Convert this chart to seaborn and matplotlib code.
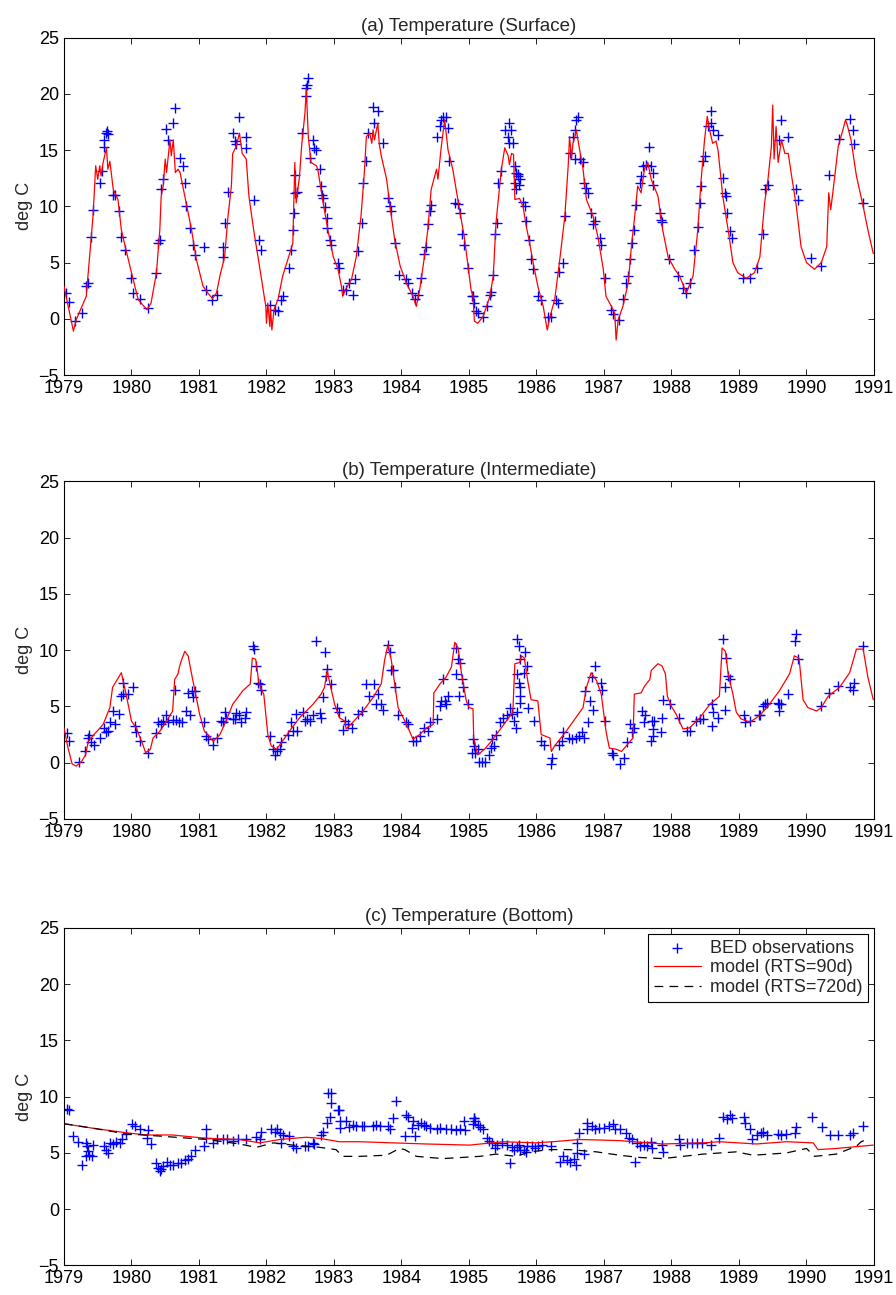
#
#   temperature at three depths: BED observations vs model runs
#

import matplotlib
matplotlib.use("Agg")
import matplotlib.pyplot as plt
import seaborn as sns

years = list(range(1979, 1992))
temp_ticks = [-5, 0, 5, 10, 15, 20, 25]

# ---- (a) surface -------------------------------------------------------
surf_obs = [
    (1979.03, 2.3), (1979.07, 1.5), (1979.17, -0.2), (1979.26, 0.5), (1979.33, 2.9),
    (1979.35, 3.2), (1979.40, 7.3), (1979.43, 9.7), (1979.54, 12.1), (1979.57, 13.1),
    (1979.59, 15.3), (1979.60, 15.9), (1979.63, 16.5), (1979.64, 16.7), (1979.65, 16.4),
    (1979.73, 11.0), (1979.75, 11.0), (1979.81, 9.6), (1979.85, 7.3), (1979.90, 6.1),
    (1980.00, 3.6), (1980.03, 2.3), (1980.12, 1.8), (1980.24, 1.0), (1980.36, 4.1),
    (1980.39, 6.7), (1980.42, 7.0), (1980.44, 11.5), (1980.47, 12.4), (1980.51, 16.9),
    (1980.54, 15.9), (1980.61, 17.4), (1980.64, 18.7), (1980.72, 14.3), (1980.76, 13.6),
    (1980.79, 12.1), (1980.81, 10.0), (1980.86, 8.1), (1980.91, 6.6), (1980.94, 5.7),
    (1981.07, 6.4), (1981.11, 2.6), (1981.20, 1.7), (1981.26, 2.1), (1981.35, 6.4),
    (1981.36, 5.5), (1981.38, 8.5), (1981.43, 11.3), (1981.51, 16.5), (1981.53, 15.8),
    (1981.55, 15.5), (1981.60, 17.9), (1981.69, 16.2), (1981.70, 15.2), (1981.81, 10.6),
    (1981.89, 7.0), (1981.92, 6.1), (1982.05, 1.2), (1982.12, 0.8), (1982.17, 0.7),
    (1982.22, 1.7), (1982.24, 2.0), (1982.34, 4.5), (1982.37, 6.1), (1982.39, 7.9),
    (1982.41, 9.4), (1982.43, 11.2), (1982.45, 11.3), (1982.43, 12.8), (1982.53, 16.5),
    (1982.58, 19.8), (1982.59, 20.5), (1982.60, 20.8), (1982.61, 21.4), (1982.65, 14.3),
    (1982.69, 15.9), (1982.71, 15.2), (1982.74, 15.0), (1982.79, 13.3), (1982.81, 11.8),
    (1982.83, 11.0), (1982.84, 10.7), (1982.86, 9.9), (1982.89, 9.0), (1982.90, 8.1),
    (1982.94, 7.0), (1982.96, 6.6), (1983.06, 5.0), (1983.08, 4.5), (1983.13, 2.6),
    (1983.18, 2.6), (1983.23, 3.2), (1983.28, 2.1), (1983.31, 3.5), (1983.36, 6.0),
    (1983.41, 8.5), (1983.43, 12.1), (1983.47, 14.0), (1983.50, 16.5), (1983.58, 18.8),
    (1983.60, 17.4), (1983.65, 18.5), (1983.73, 15.6), (1983.80, 10.7), (1983.83, 10.0),
    (1983.85, 9.6), (1983.91, 6.7), (1983.96, 3.9), (1984.07, 3.5), (1984.10, 3.2),
    (1984.15, 2.3), (1984.20, 1.8), (1984.24, 2.1), (1984.29, 3.6), (1984.34, 5.8),
    (1984.37, 6.4), (1984.39, 8.4), (1984.42, 9.6), (1984.44, 10.1), (1984.52, 16.2),
    (1984.57, 17.1), (1984.59, 17.7), (1984.62, 17.9), (1984.66, 17.9), (1984.69, 17.0),
    (1984.71, 14.0), (1984.79, 10.3), (1984.84, 10.2), (1984.86, 9.4), (1984.89, 7.5),
    (1984.92, 6.6), (1984.99, 4.5), (1985.06, 2.0), (1985.08, 1.4), (1985.11, 0.7),
    (1985.04, 2.0), (1985.13, 0.5), (1985.21, 0.2), (1985.26, 1.1), (1985.31, 2.1),
    (1985.33, 2.4), (1985.36, 3.9), (1985.38, 7.5), (1985.41, 8.5), (1985.43, 12.1),
    (1985.48, 13.1), (1985.53, 16.8), (1985.60, 17.4), (1985.63, 16.8), (1985.58, 16.2),
    (1985.60, 15.6), (1985.65, 15.6), (1985.68, 13.6), (1985.70, 13.0), (1985.73, 12.7),
    (1985.75, 12.4), (1985.68, 12.1), (1985.70, 11.5), (1985.72, 12.9), (1985.74, 11.9),
    (1985.80, 10.4), (1985.83, 10.0), (1985.85, 8.7), (1985.89, 7.0), (1985.92, 5.3),
    (1985.95, 4.4), (1986.02, 2.0), (1986.07, 1.7), (1986.17, 0.2), (1986.22, 0.2),
    (1986.29, 1.7), (1986.32, 1.4), (1986.34, 4.2), (1986.39, 5.0), (1986.42, 9.1),
    (1986.49, 14.7), (1986.54, 16.2), (1986.57, 16.8), (1986.59, 17.7), (1986.62, 17.9),
    (1986.57, 14.2), (1986.64, 14.2), (1986.69, 13.9), (1986.71, 12.1), (1986.74, 11.6),
    (1986.76, 11.2), (1986.81, 9.4), (1986.86, 8.7), (1986.84, 8.4), (1986.94, 7.2),
    (1986.96, 6.6), (1987.01, 3.6), (1987.11, 0.8), (1987.13, 0.4), (1987.23, -0.1),
    (1987.28, 1.8), (1987.33, 3.2), (1987.36, 3.8), (1987.38, 5.3), (1987.41, 6.7),
    (1987.45, 7.9), (1987.48, 10.1), (1987.53, 12.1), (1987.55, 12.7), (1987.58, 13.6),
    (1987.63, 13.7), (1987.66, 15.3), (1987.70, 13.6), (1987.73, 13.0), (1987.72, 11.9),
    (1987.83, 9.4), (1987.85, 8.8), (1987.86, 8.6), (1987.96, 5.3), (1988.10, 3.8),
    (1988.17, 2.7), (1988.22, 2.3), (1988.27, 3.2), (1988.34, 6.1), (1988.39, 8.2),
    (1988.42, 10.3), (1988.44, 11.8), (1988.47, 14.0), (1988.49, 14.5), (1988.54, 17.1),
    (1988.58, 18.5), (1988.59, 17.4), (1988.62, 16.8), (1988.69, 16.3), (1988.76, 12.5),
    (1988.79, 11.2), (1988.81, 10.9), (1988.82, 9.4), (1988.86, 7.8), (1988.89, 7.2),
    (1989.06, 3.6), (1989.16, 3.6), (1989.26, 4.5), (1989.36, 7.5), (1989.38, 11.5),
    (1989.43, 11.9), (1989.60, 15.9), (1989.63, 17.7), (1989.73, 16.2), (1989.85, 11.5),
    (1989.87, 10.6), (1990.07, 5.4), (1990.22, 4.7), (1990.34, 12.8), (1990.48, 16.0),
    (1990.64, 17.8), (1990.69, 16.8), (1990.71, 15.5), (1990.84, 10.3),
]

surf_model = [
    (1979.00, 2.9), (1979.14, -1.1), (1979.18, -0.1), (1979.33, 2.0), (1979.38, 5.5),
    (1979.43, 9.1), (1979.47, 13.6), (1979.50, 12.4), (1979.53, 13.6), (1979.55, 12.7),
    (1979.58, 13.9), (1979.63, 15.2), (1979.65, 13.3), (1979.68, 14.0), (1979.73, 11.5),
    (1979.80, 10.6), (1979.85, 7.9), (1979.92, 6.1), (1980.00, 4.1), (1980.10, 1.7),
    (1980.23, 0.8), (1980.29, 1.4), (1980.37, 4.1), (1980.42, 7.9), (1980.44, 10.9),
    (1980.47, 11.8), (1980.50, 14.2), (1980.52, 13.0), (1980.57, 15.9), (1980.59, 14.5),
    (1980.62, 15.9), (1980.65, 13.0), (1980.69, 13.3), (1980.72, 13.0), (1980.80, 10.6),
    (1980.89, 7.9), (1980.96, 5.3), (1981.01, 4.1), (1981.06, 2.9), (1981.13, 2.3),
    (1981.20, 1.8), (1981.26, 2.3), (1981.31, 3.8), (1981.38, 5.5), (1981.43, 9.1),
    (1981.48, 11.8), (1981.50, 14.7), (1981.55, 15.3), (1981.60, 16.5), (1981.64, 14.7),
    (1981.70, 14.2), (1981.74, 10.9), (1981.81, 7.9), (1981.88, 5.3), (1981.95, 2.6),
    (1981.99, 1.1), (1982.00, -0.4), (1982.02, 1.4), (1982.05, -0.7), (1982.06, 1.0),
    (1982.08, -1.0), (1982.11, 0.8), (1982.17, 1.7), (1982.24, 3.8), (1982.39, 6.7),
    (1982.42, 13.9), (1982.44, 10.3), (1982.49, 12.7), (1982.52, 15.3), (1982.57, 18.3),
    (1982.59, 20.4), (1982.62, 16.2), (1982.66, 13.9), (1982.74, 13.6), (1982.76, 13.3),
    (1982.84, 10.3), (1982.91, 7.9), (1982.99, 5.5), (1983.06, 4.4), (1983.11, 2.9),
    (1983.13, 2.0), (1983.17, 2.6), (1983.26, 3.5), (1983.33, 5.5), (1983.40, 9.1),
    (1983.45, 13.0), (1983.48, 16.2), (1983.53, 16.5), (1983.56, 15.6), (1983.58, 16.8),
    (1983.60, 15.9), (1983.65, 17.4), (1983.67, 15.6), (1983.70, 14.5), (1983.78, 12.4),
    (1983.83, 10.0), (1983.90, 7.0), (1983.98, 4.7), (1984.07, 3.2), (1984.17, 2.0),
    (1984.22, 1.1), (1984.27, 2.6), (1984.34, 5.5), (1984.39, 7.9), (1984.44, 11.5),
    (1984.52, 13.3), (1984.54, 12.4), (1984.59, 15.3), (1984.64, 17.7), (1984.69, 15.0),
    (1984.76, 13.3), (1984.86, 9.7), (1984.93, 7.3), (1984.98, 5.0), (1985.03, 2.6),
    (1985.06, 2.0), (1985.08, -0.2), (1985.13, -0.4), (1985.21, 0.2), (1985.31, 2.0),
    (1985.36, 3.8), (1985.40, 8.5), (1985.43, 10.3), (1985.48, 13.3), (1985.53, 15.2),
    (1985.58, 14.5), (1985.60, 13.7), (1985.63, 14.7), (1985.66, 14.6), (1985.68, 10.6),
    (1985.75, 10.7), (1985.80, 10.0), (1985.85, 8.2), (1985.90, 6.7), (1985.95, 5.0),
    (1986.02, 2.9), (1986.10, 1.1), (1986.16, -1.0), (1986.20, 0.2), (1986.27, 1.7),
    (1986.34, 5.0), (1986.42, 9.1), (1986.47, 13.6), (1986.49, 16.2), (1986.52, 14.2),
    (1986.54, 15.6), (1986.57, 16.2), (1986.59, 16.8), (1986.64, 15.0), (1986.69, 13.3),
    (1986.74, 10.6), (1986.84, 9.1), (1986.91, 7.3), (1986.99, 4.4), (1987.03, 2.0),
    (1987.11, 1.1), (1987.16, 0.5), (1987.18, -1.9), (1987.21, -0.1), (1987.28, 1.1),
    (1987.36, 3.2), (1987.41, 6.7), (1987.45, 8.8), (1987.50, 11.8), (1987.55, 11.2),
    (1987.60, 13.3), (1987.65, 13.9), (1987.70, 12.4), (1987.80, 10.9), (1987.87, 7.9),
    (1987.95, 5.5), (1988.05, 4.4), (1988.12, 3.8), (1988.22, 2.3), (1988.32, 3.8),
    (1988.39, 7.9), (1988.44, 12.4), (1988.49, 15.9), (1988.53, 18.0), (1988.56, 16.9),
    (1988.61, 15.6), (1988.66, 15.8), (1988.69, 15.0), (1988.76, 10.9), (1988.84, 7.9),
    (1988.91, 5.0), (1988.98, 4.1), (1989.11, 3.6), (1989.23, 4.1), (1989.31, 5.5),
    (1989.38, 10.3), (1989.43, 12.4), (1989.48, 15.3), (1989.50, 19.0), (1989.52, 14.2),
    (1989.55, 17.1), (1989.58, 13.9), (1989.63, 15.9), (1989.68, 14.7), (1989.73, 14.7),
    (1989.78, 12.7), (1989.85, 10.0), (1989.92, 6.4), (1990.00, 5.0), (1990.12, 4.4),
    (1990.22, 5.0), (1990.30, 6.4), (1990.33, 11.2), (1990.36, 9.7), (1990.42, 12.7),
    (1990.47, 15.3), (1990.54, 16.8), (1990.58, 17.7), (1990.61, 17.1), (1990.66, 15.9),
    (1990.74, 12.7), (1990.84, 10.0), (1990.91, 7.9), (1990.99, 5.8),
]

# ---- (b) intermediate --------------------------------------------------
mid_obs = [
    (1979.04, 2.6), (1979.07, 1.9), (1979.23, 0.1), (1979.31, 1.0), (1979.35, 2.2),
    (1979.37, 2.5), (1979.40, 1.8), (1979.44, 1.6), (1979.53, 2.2), (1979.60, 3.1),
    (1979.63, 2.7), (1979.65, 2.8), (1979.68, 3.6), (1979.73, 4.6), (1979.75, 3.4),
    (1979.82, 4.3), (1979.85, 5.9), (1979.88, 6.1), (1979.87, 7.1), (1979.95, 6.1),
    (1980.03, 6.7), (1980.05, 3.3), (1980.06, 2.7), (1980.12, 1.9), (1980.24, 0.9),
    (1980.36, 2.6), (1980.39, 3.6), (1980.44, 3.4), (1980.47, 3.7), (1980.51, 4.2),
    (1980.54, 3.6), (1980.61, 3.8), (1980.64, 6.5), (1980.66, 3.8), (1980.71, 3.6),
    (1980.75, 3.6), (1980.81, 4.6), (1980.84, 6.2), (1980.86, 4.2), (1980.89, 6.4),
    (1980.91, 5.8), (1980.94, 6.4), (1981.07, 3.6), (1981.10, 2.4), (1981.13, 2.1),
    (1981.21, 1.6), (1981.26, 2.2), (1981.33, 3.7), (1981.36, 3.6), (1981.38, 4.5),
    (1981.40, 4.0), (1981.50, 3.9), (1981.53, 3.9), (1981.55, 4.4), (1981.60, 4.2),
    (1981.63, 3.6), (1981.68, 4.0), (1981.70, 4.5), (1981.80, 10.4), (1981.81, 10.1),
    (1981.84, 8.6), (1981.87, 7.1), (1981.90, 7.0), (1981.92, 6.5), (1982.05, 2.4),
    (1982.10, 1.2), (1982.12, 0.7), (1982.15, 1.0), (1982.20, 1.2), (1982.22, 1.8),
    (1982.32, 2.5), (1982.37, 3.6), (1982.39, 2.8), (1982.44, 4.3), (1982.45, 2.8),
    (1982.54, 4.5), (1982.57, 3.7), (1982.60, 3.9), (1982.64, 3.7), (1982.69, 4.2),
    (1982.74, 10.8), (1982.81, 4.0), (1982.79, 4.4), (1982.84, 5.8), (1982.86, 9.8),
    (1982.89, 8.3), (1982.88, 7.7), (1982.96, 7.0), (1983.04, 4.9), (1983.08, 4.5),
    (1983.13, 2.9), (1983.16, 3.7), (1983.21, 3.4), (1983.26, 3.1), (1983.36, 4.3),
    (1983.41, 4.6), (1983.47, 7.0), (1983.52, 5.9), (1983.60, 7.0), (1983.63, 5.2),
    (1983.65, 6.1), (1983.70, 5.2), (1983.72, 4.7), (1983.80, 10.5), (1983.83, 9.8),
    (1983.85, 8.2), (1983.87, 8.2), (1983.90, 6.7), (1983.95, 4.2), (1984.07, 3.6),
    (1984.10, 3.4), (1984.17, 1.9), (1984.22, 1.9), (1984.27, 2.4), (1984.34, 3.1),
    (1984.39, 2.8), (1984.42, 3.6), (1984.52, 3.9), (1984.57, 5.0), (1984.59, 5.5),
    (1984.64, 5.5), (1984.66, 5.2), (1984.69, 5.9), (1984.62, 7.4), (1984.81, 10.2),
    (1984.84, 9.2), (1984.86, 8.9), (1984.81, 7.9), (1984.89, 7.4), (1984.85, 5.9),
    (1984.91, 6.7), (1984.99, 5.2), (1985.04, 0.9), (1985.06, 2.1), (1985.08, 1.5),
    (1985.13, 1.2), (1985.15, 0.1), (1985.09, 0.9), (1985.19, 0.1), (1985.24, 0.1),
    (1985.29, 0.7), (1985.32, 1.3), (1985.34, 2.1), (1985.37, 1.5), (1985.40, 2.5),
    (1985.46, 3.6), (1985.51, 4.0), (1985.56, 4.2), (1985.61, 4.9), (1985.64, 4.3),
    (1985.66, 3.7), (1985.69, 3.1), (1985.71, 4.5), (1985.71, 11.0), (1985.74, 10.4),
    (1985.75, 9.2), (1985.71, 7.9), (1985.74, 7.1), (1985.76, 6.7), (1985.75, 5.9),
    (1985.76, 5.3), (1985.81, 8.0), (1985.83, 9.8), (1985.86, 8.6), (1985.88, 4.9),
    (1985.96, 3.7), (1986.06, 1.9), (1986.11, 1.6), (1986.21, -0.1), (1986.23, 0.4),
    (1986.33, 1.6), (1986.38, 1.9), (1986.40, 2.7), (1986.48, 2.2), (1986.53, 2.1),
    (1986.58, 2.2), (1986.63, 2.4), (1986.67, 2.7), (1986.70, 2.2), (1986.72, 6.4),
    (1986.77, 3.6), (1986.80, 5.5), (1986.84, 4.7), (1986.82, 7.6), (1986.87, 8.6),
    (1986.95, 7.1), (1986.97, 6.5), (1987.02, 3.7), (1987.12, 0.9), (1987.14, 0.7),
    (1987.24, -0.1), (1987.29, 0.4), (1987.34, 1.8), (1987.39, 3.4), (1987.44, 3.1),
    (1987.42, 2.7), (1987.56, 4.6), (1987.59, 3.6), (1987.61, 4.2), (1987.69, 1.9),
    (1987.71, 3.7), (1987.74, 3.7), (1987.73, 2.4), (1987.72, 3.0), (1987.86, 4.0),
    (1987.87, 5.6), (1987.84, 2.7), (1987.98, 5.2), (1988.11, 4.0), (1988.23, 2.8),
    (1988.28, 2.8), (1988.37, 3.7), (1988.42, 3.9), (1988.47, 3.9), (1988.60, 5.2),
    (1988.61, 4.5), (1988.60, 3.3), (1988.69, 4.0), (1988.77, 11.0), (1988.81, 9.3),
    (1988.84, 7.7), (1988.86, 7.4), (1988.79, 6.7), (1988.80, 4.7), (1989.07, 4.2),
    (1989.09, 3.6), (1989.17, 3.7), (1989.29, 4.2), (1989.31, 4.2), (1989.36, 5.0),
    (1989.38, 5.2), (1989.41, 5.3), (1989.58, 5.3), (1989.60, 5.2), (1989.63, 5.2),
    (1989.60, 4.6), (1989.73, 6.1), (1989.83, 10.8), (1989.85, 11.4), (1989.87, 9.2),
    (1990.22, 5.0), (1990.34, 6.2), (1990.47, 6.8), (1990.64, 6.7), (1990.69, 6.5),
    (1990.71, 7.1), (1990.84, 10.4),
]

mid_model = [
    (1979.00, 3.1), (1979.06, 1.3), (1979.12, -0.1), (1979.18, -0.3), (1979.26, 0.1),
    (1979.32, 0.7), (1979.36, 1.9), (1979.43, 2.4), (1979.58, 3.4), (1979.68, 4.9),
    (1979.72, 6.7), (1979.78, 7.3), (1979.85, 8.0), (1979.92, 6.1), (1980.00, 3.7),
    (1980.07, 3.1), (1980.15, 1.9), (1980.21, 0.9), (1980.28, 1.2), (1980.32, 2.2),
    (1980.42, 2.8), (1980.52, 3.7), (1980.61, 4.6), (1980.64, 7.4), (1980.69, 7.9),
    (1980.71, 8.5), (1980.74, 9.1), (1980.79, 9.9), (1980.84, 9.5), (1980.89, 7.9),
    (1980.94, 6.4), (1981.01, 4.3), (1981.08, 2.8), (1981.13, 2.5), (1981.21, 1.9),
    (1981.31, 2.5), (1981.40, 3.7), (1981.50, 5.2), (1981.65, 6.4), (1981.76, 7.0),
    (1981.79, 9.3), (1981.84, 9.2), (1981.89, 7.0), (1981.96, 6.1), (1982.02, 2.5),
    (1982.07, 1.5), (1982.15, 1.2), (1982.20, 1.6), (1982.34, 2.8), (1982.49, 4.0),
    (1982.69, 5.2), (1982.81, 6.1), (1982.86, 6.7), (1982.90, 8.2), (1982.94, 7.0),
    (1983.01, 5.2), (1983.08, 4.0), (1983.16, 3.7), (1983.18, 3.0), (1983.28, 3.6),
    (1983.43, 4.6), (1983.58, 5.8), (1983.70, 7.0), (1983.75, 9.1), (1983.80, 10.5),
    (1983.85, 9.1), (1983.90, 7.0), (1983.95, 4.9), (1984.05, 3.7), (1984.12, 2.8),
    (1984.17, 2.1), (1984.27, 2.5), (1984.37, 3.1), (1984.47, 3.4), (1984.48, 6.2),
    (1984.57, 7.0), (1984.66, 7.6), (1984.74, 8.5), (1984.79, 10.7), (1984.84, 10.2),
    (1984.89, 7.9), (1984.96, 5.5), (1985.00, 4.9), (1985.06, 4.8), (1985.07, 2.2),
    (1985.13, 0.7), (1985.23, 1.2), (1985.33, 1.9), (1985.48, 3.1), (1985.65, 4.5),
    (1985.68, 8.8), (1985.75, 8.9), (1985.78, 9.5), (1985.82, 9.3), (1985.87, 7.3),
    (1985.92, 5.6), (1986.02, 5.5), (1986.07, 2.5), (1986.20, 2.2), (1986.22, 1.0),
    (1986.27, 1.5), (1986.44, 2.8), (1986.69, 4.9), (1986.74, 6.7), (1986.81, 8.0),
    (1986.89, 7.3), (1986.96, 6.1), (1987.03, 2.8), (1987.08, 1.3), (1987.18, 1.2),
    (1987.26, 1.0), (1987.33, 1.5), (1987.43, 2.2), (1987.45, 6.1), (1987.55, 6.2),
    (1987.60, 6.8), (1987.68, 7.4), (1987.70, 8.2), (1987.80, 8.8), (1987.86, 8.6),
    (1987.91, 7.9), (1987.94, 5.9), (1988.00, 5.0), (1988.07, 4.3), (1988.17, 3.0),
    (1988.27, 3.1), (1988.42, 4.0), (1988.57, 5.2), (1988.71, 5.9), (1988.75, 10.2),
    (1988.80, 9.9), (1988.84, 7.9), (1988.91, 6.1), (1988.96, 4.5), (1989.03, 3.9),
    (1989.16, 3.6), (1989.31, 4.2), (1989.45, 5.2), (1989.60, 6.4), (1989.75, 7.9),
    (1989.82, 9.5), (1989.89, 9.3), (1989.95, 5.6), (1990.02, 4.9), (1990.15, 4.6),
    (1990.22, 4.9), (1990.32, 5.9), (1990.49, 6.7), (1990.64, 8.0), (1990.74, 10.1),
    (1990.84, 10.1), (1990.91, 7.6), (1990.99, 5.6),
]

# ---- (c) bottom --------------------------------------------------------
bot_obs = [
    (1979.04, 8.9), (1979.07, 8.8), (1979.14, 6.5), (1979.21, 6.0), (1979.26, 3.9),
    (1979.32, 5.9), (1979.34, 5.6), (1979.32, 4.7), (1979.37, 4.8), (1979.36, 5.2),
    (1979.43, 5.7), (1979.42, 4.7), (1979.60, 5.6), (1979.63, 5.3), (1979.65, 5.0),
    (1979.68, 5.9), (1979.73, 5.8), (1979.77, 6.0), (1979.83, 5.9), (1979.86, 6.2),
    (1979.92, 6.7), (1980.01, 7.6), (1980.05, 7.4), (1980.12, 7.1), (1980.23, 6.3),
    (1980.24, 7.0), (1980.29, 5.8), (1980.36, 4.1), (1980.39, 3.7), (1980.42, 3.4),
    (1980.44, 3.6), (1980.52, 4.2), (1980.47, 3.8), (1980.57, 3.9), (1980.62, 3.9),
    (1980.69, 4.1), (1980.74, 4.1), (1980.79, 4.4), (1980.84, 4.5), (1980.88, 4.7),
    (1980.94, 5.3), (1981.08, 5.6), (1981.11, 7.1), (1981.11, 6.3), (1981.21, 5.9),
    (1981.26, 6.2), (1981.36, 6.2), (1981.41, 6.2), (1981.50, 6.1), (1981.58, 6.2),
    (1981.70, 6.2), (1981.85, 6.4), (1981.90, 6.2), (1981.92, 6.9), (1982.07, 7.1),
    (1982.12, 6.9), (1982.15, 7.1), (1982.20, 6.8), (1982.24, 6.6), (1982.34, 6.5),
    (1982.22, 5.9), (1982.39, 5.6), (1982.44, 5.4), (1982.57, 5.6), (1982.62, 5.6),
    (1982.69, 5.9), (1982.71, 5.8), (1982.81, 6.6), (1982.84, 6.9), (1982.89, 7.7),
    (1982.91, 10.3), (1982.96, 10.3), (1982.96, 9.4), (1982.94, 8.2), (1983.06, 8.8),
    (1983.08, 8.8), (1983.09, 7.8), (1983.18, 7.8), (1983.09, 7.2), (1983.23, 7.3),
    (1983.28, 7.5), (1983.33, 7.4), (1983.41, 7.4), (1983.45, 7.4), (1983.58, 7.4),
    (1983.63, 7.5), (1983.68, 7.4), (1983.80, 7.4), (1983.83, 7.1), (1983.87, 8.1),
    (1983.92, 9.6), (1984.05, 6.5), (1984.07, 8.4), (1984.10, 8.2), (1984.15, 7.2),
    (1984.17, 7.8), (1984.20, 6.5), (1984.24, 7.5), (1984.29, 7.7), (1984.34, 7.5),
    (1984.37, 7.4), (1984.42, 7.2), (1984.52, 7.1), (1984.57, 7.2), (1984.66, 7.1),
    (1984.74, 7.1), (1984.81, 7.0), (1984.86, 7.1), (1984.92, 7.8), (1984.94, 7.0),
    (1985.06, 7.6), (1985.08, 8.1), (1985.13, 7.5), (1985.07, 8.1), (1985.09, 7.8),
    (1985.16, 7.3), (1985.21, 7.1), (1985.27, 6.3), (1985.29, 6.1), (1985.34, 5.9),
    (1985.39, 5.4), (1985.42, 5.7), (1985.49, 5.9), (1985.56, 5.7), (1985.61, 4.1),
    (1985.64, 5.5), (1985.66, 5.3), (1985.71, 5.5), (1985.74, 5.7), (1985.76, 5.3),
    (1985.81, 5.3), (1985.84, 5.1), (1985.86, 5.6), (1985.93, 5.6), (1985.98, 5.4),
    (1986.03, 5.6), (1986.08, 5.7), (1986.21, 5.6), (1986.35, 4.2), (1986.40, 4.7),
    (1986.45, 4.4), (1986.50, 4.2), (1986.55, 4.5), (1986.58, 3.9), (1986.60, 5.0),
    (1986.60, 5.9), (1986.63, 6.8), (1986.70, 4.9), (1986.75, 7.7), (1986.75, 7.1),
    (1986.82, 7.4), (1986.87, 7.1), (1986.92, 7.2), (1987.00, 7.2), (1987.07, 7.4),
    (1987.13, 7.6), (1987.17, 7.1), (1987.24, 7.1), (1987.32, 6.8), (1987.37, 6.3),
    (1987.42, 6.2), (1987.46, 4.2), (1987.49, 5.9), (1987.54, 5.6), (1987.59, 5.7),
    (1987.64, 5.6), (1987.69, 6.0), (1987.71, 5.4), (1987.86, 5.7), (1987.87, 5.1),
    (1988.11, 6.2), (1988.13, 5.7), (1988.23, 5.9), (1988.30, 5.9), (1988.38, 5.9),
    (1988.45, 5.9), (1988.58, 5.7), (1988.70, 6.3), (1988.76, 8.2), (1988.82, 8.0),
    (1988.87, 8.4), (1988.90, 8.1), (1989.07, 8.2), (1989.09, 7.7), (1989.17, 7.1),
    (1989.19, 6.2), (1989.26, 6.6), (1989.33, 6.8), (1989.36, 6.9), (1989.41, 6.6),
    (1989.58, 6.7), (1989.63, 6.6), (1989.70, 6.7), (1989.83, 6.8), (1989.85, 7.3),
    (1990.08, 8.2), (1990.23, 7.3), (1990.35, 6.6), (1990.47, 6.6), (1990.64, 6.6),
    (1990.69, 6.8), (1990.84, 7.4),
]

bot_model_90 = [
    (1979.00, 7.6), (1979.43, 7.2), (1979.92, 6.8), (1980.22, 6.6), (1980.61, 6.6),
    (1981.11, 6.3), (1981.60, 6.2), (1981.90, 5.9), (1982.20, 6.2), (1982.59, 6.4),
    (1982.79, 6.3), (1983.08, 6.0), (1983.38, 6.0), (1983.87, 5.9), (1984.37, 5.8),
    (1985.01, 5.7), (1985.50, 6.0), (1986.00, 5.9), (1986.24, 6.0), (1986.64, 6.2),
    (1987.23, 6.1), (1987.87, 5.8), (1988.47, 5.9), (1988.71, 6.0), (1989.26, 5.8),
    (1989.70, 6.0), (1990.10, 5.9), (1990.17, 5.3), (1990.44, 5.4), (1990.99, 5.7),
]

bot_model_720 = [
    (1979.00, 7.6), (1979.43, 7.2), (1979.92, 6.7), (1980.42, 6.5), (1981.11, 6.2),
    (1981.60, 5.8), (1981.85, 5.5), (1982.10, 5.9), (1982.39, 5.7), (1982.79, 5.5),
    (1983.03, 5.3), (1983.13, 4.7), (1983.38, 4.7), (1983.78, 4.8), (1983.97, 5.4),
    (1984.05, 5.3), (1984.22, 4.7), (1984.61, 4.5), (1985.16, 4.7), (1985.40, 4.9),
    (1985.70, 4.7), (1985.90, 5.1), (1986.20, 5.3), (1986.49, 5.3), (1986.89, 5.1),
    (1987.23, 4.8), (1987.53, 4.6), (1987.87, 4.5), (1988.47, 4.9), (1988.96, 5.1),
    (1989.21, 4.8), (1989.70, 5.0), (1990.00, 5.4), (1990.12, 4.7), (1990.44, 4.9),
    (1990.74, 5.6), (1990.81, 6.0), (1990.89, 6.2),
]

titles = ["(a) Temperature (Surface)", "(b) Temperature (Intermediate)",
          "(c) Temperature (Bottom)"]

sns.set_theme(style="ticks", rc={
    "xtick.direction": "in", "ytick.direction": "in",
    "xtick.top": True, "ytick.right": True,
    "xtick.major.size": 4.3, "ytick.major.size": 4.3,
    "xtick.major.width": 0.6, "ytick.major.width": 0.6,
    "axes.linewidth": 0.8, "axes.edgecolor": "black",
    "xtick.color": "black", "ytick.color": "black",
})
plt.rcParams['font.family'] = ['Liberation Sans', 'DejaVu Sans']

fig = plt.figure(figsize=(8.96, 12.95), dpi=100)
bottoms = [0.7104, 0.3676, 0.0228]
axs = [fig.add_axes([0.0714, b, 0.904, 0.2606]) for b in bottoms]

panels = [(surf_obs, surf_model), (mid_obs, mid_model), (bot_obs, bot_model_90)]

for i, (ax, (obs, model)) in enumerate(zip(axs, panels)):
    ox, oy = zip(*obs)
    mx, my = zip(*model)
    sns.scatterplot(x=list(ox), y=list(oy), ax=ax, marker="+", color="#0000ff",
                    s=55, linewidth=1.0, label="BED observations" if i == 2 else None,
                    zorder=2)
    sns.lineplot(x=list(mx), y=list(my), ax=ax, color="#ff0000", linewidth=0.9,
                 estimator=None, sort=False, label="model (RTS=90d)" if i == 2 else None,
                 zorder=3)
    if i == 2:
        bx, by = zip(*bot_model_720)
        sns.lineplot(x=list(bx), y=list(by), ax=ax, color="black", linewidth=0.9,
                     estimator=None, sort=False, dashes=False, zorder=3,
                     label="model (RTS=720d)")
        ax.lines[-1].set_linestyle((0, (7, 5)))

    ax.set_xlim(1979, 1991)
    ax.set_ylim(-5, 25)
    ax.set_xticks(years)
    ax.set_yticks(temp_ticks)
    ax.tick_params(labelsize=13, pad=3.5)
    ax.set_ylabel("deg C", fontsize=13)
    ax.set_xlabel("")
    ax.set_title(titles[i], fontsize=13.5, pad=5)

leg = axs[2].legend(loc="upper right", fontsize=13, frameon=True, fancybox=False,
                    edgecolor="black", framealpha=1, borderaxespad=0.35,
                    handlelength=2.6, labelspacing=0.15, borderpad=0.3,
                    handletextpad=0.5)
leg.get_frame().set_linewidth(0.8)

fig.savefig("out.png", dpi=100)
